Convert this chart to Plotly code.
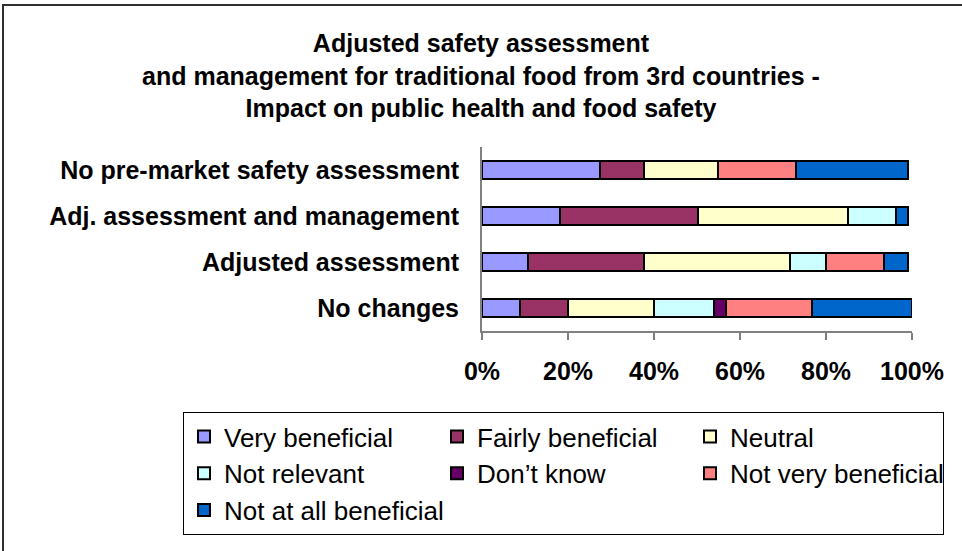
import plotly.graph_objects as go

categories = ["No changes", "Adjusted assessment", "Adj. assessment and management",
              "No pre-market safety assessment"]
series_names = ["Very beneficial", "Fairly beneficial", "Neutral", "Not relevant",
                "Don\u2019t know", "Not very beneficial", "Not at all beneficial"]
very_beneficial = [8.8, 10.7, 18.1, 27.4]
fairly_beneficial = [11.2, 27.0, 32.1, 10.3]
neutral = [20.0, 34.0, 34.9, 17.2]
not_relevant = [14.0, 8.4, 11.2, 0.0]
dont_know = [2.8, 0.0, 0.0, 0.0]
not_very_beneficial = [20.0, 13.5, 0.0, 18.1]
not_at_all_beneficial = [23.2, 5.5, 2.8, 26.1]
tick_vals = [0, 20, 40, 60, 80, 100]
tick_text = ["0%", "20%", "40%", "60%", "80%", "100%"]
colors = ["#9999FF", "#993366", "#FFFFCC", "#CCFFFF", "#660066", "#FF8080", "#0066CC"]

values = [very_beneficial, fairly_beneficial, neutral, not_relevant, dont_know,
          not_very_beneficial, not_at_all_beneficial]

W, H = 962, 551
L, R, T, B = 482, 50, 147, 220
pw, ph = W - L - R, H - T - B

def px_x(x):
    return (x - L) / pw

def px_y(y):
    return (H - B - y) / ph

fig = go.Figure()
for name, vals, col in zip(series_names, values, colors):
    fig.add_trace(go.Bar(
        y=categories, x=vals, name=name, orientation="h",
        marker=dict(color=col, line=dict(color="black", width=2)),
    ))

fig.update_layout(
    width=W, height=H,
    barmode="stack", bargap=0.6,
    plot_bgcolor="white", paper_bgcolor="white",
    margin=dict(l=L, r=R, t=T, b=B, pad=0),
    font=dict(family="Liberation Sans, Arial, sans-serif", color="black"),
    title=dict(
        text="<b>Adjusted safety assessment<br>and management for traditional food from 3rd countries -<br>Impact on public health and food safety</b>",
        x=0.5, xref="container", xanchor="center",
        y=1 - 52 / H, yref="container", yanchor="top",
        font=dict(size=25, color="black"),
    ),
    xaxis=dict(
        range=[0, 100], tickvals=tick_vals, ticktext=tick_text,
        showgrid=False, zeroline=False,
        showline=True, linecolor="#808080", linewidth=2,
        ticks="outside", ticklen=7, tickcolor="#808080", tickwidth=2,
        ticklabelstandoff=10,
        tickfont=dict(size=25, color="black", weight="bold"),
        fixedrange=True,
    ),
    yaxis=dict(
        showgrid=False, zeroline=False,
        showline=True, linecolor="#808080", linewidth=2,
        ticks="", ticklabelstandoff=16,
        tickfont=dict(size=25, color="black", weight="bold"),
        fixedrange=True,
    ),
    legend=dict(
        orientation="h",
        x=px_x(183), xanchor="left",
        y=px_y(412), yanchor="top",
        bordercolor="black", borderwidth=1,
        bgcolor="white",
        font=dict(size=26, color="black"),
        entrywidth=208, entrywidthmode="pixels",
        traceorder="normal",
        itemwidth=30,
    ),
    showlegend=True,
)

fig.add_shape(
    type="rect", xref="paper", yref="paper",
    x0=px_x(3), x1=px_x(975), y0=px_y(565), y1=px_y(5),
    line=dict(color="#303030", width=2), fillcolor="rgba(0,0,0,0)", layer="above",
)

fig.write_html("out.html", config={"displayModeBar": False},
               post_script="document.body.style.margin='0';document.body.style.overflow='hidden';")
